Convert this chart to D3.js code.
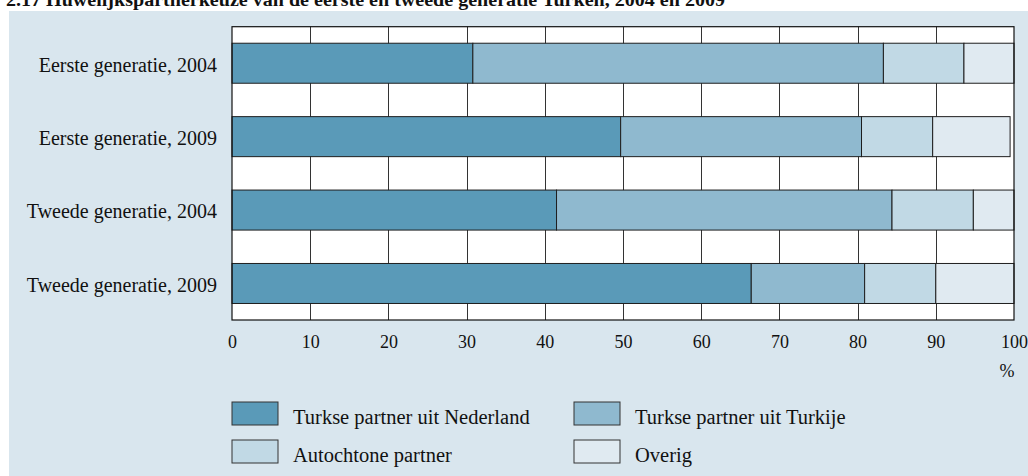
<!DOCTYPE html>
<html>
<head>
<meta charset="utf-8">
<script src="https://cdn.jsdelivr.net/npm/d3@7"></script>
<style>
  html, body { margin: 0; padding: 0; background: #ffffff; }
  svg { display: block; }
  text { font-family: "Liberation Serif", "DejaVu Serif", serif; fill: #111; }
</style>
</head>
<body>
<svg id="chart" width="1028" height="476"></svg>
<script>
const title = "2.17  Huwelijkspartnerkeuze van de eerste en tweede generatie Turken, 2004 en 2009";
const categories = ["Eerste generatie, 2004", "Eerste generatie, 2009", "Tweede generatie, 2004", "Tweede generatie, 2009"];
const seriesNames = ["Turkse partner uit Nederland", "Turkse partner uit Turkije", "Autochtone partner", "Overig"];
const turksNederland = [30.8, 49.7, 41.5, 66.4];
const turksTurkije   = [52.5, 30.8, 42.9, 14.5];
const autochtoon     = [10.3, 9.1, 10.4, 9.1];
const overig         = [6.4, 9.9, 5.2, 10.0];
const xTicks = [0, 10, 20, 30, 40, 50, 60, 70, 80, 90, 100];
const unitLabel = "%";

const colors = ["#5a9ab8", "#8fb9cf", "#c1d9e5", "#e0eaf1"];
const seriesValues = [turksNederland, turksTurkije, autochtoon, overig];

const rows = categories.map((c, i) => {
  const r = { cat: c };
  seriesNames.forEach((s, j) => r[s] = seriesValues[j][i]);
  return r;
});

const svg = d3.select("#chart");

// panel background
svg.append("rect").attr("x", 9).attr("y", 11).attr("width", 1019).attr("height", 465).attr("fill", "#d9e6ee");

// title
svg.append("text").attr("x", 6).attr("y", 6)
  .attr("font-weight", "bold").attr("font-size", 18)
  .attr("textLength", 719).attr("lengthAdjust", "spacingAndGlyphs")
  .text(title);

const x = d3.scaleLinear().domain([0, 100]).range([232, 1014]);
const y = d3.scaleBand().domain(categories).range([26.7, 320]).paddingInner(0.455).paddingOuter(0.225);

// plot area
svg.append("rect").attr("x", x(0)).attr("y", 26.7).attr("width", x(100) - x(0)).attr("height", 320 - 26.7)
  .attr("fill", "#ffffff");

// gridlines
svg.append("g").selectAll("line").data(xTicks.slice(1, -1)).join("line")
  .attr("x1", d => Math.round(x(d)) + 0.5).attr("x2", d => Math.round(x(d)) + 0.5)
  .attr("y1", 26.7).attr("y2", 320)
  .attr("stroke", "#333").attr("stroke-width", 1);

// stacked bars
const stack = d3.stack().keys(seriesNames)(rows);
svg.append("g").selectAll("g").data(stack).join("g")
  .attr("fill", (d, i) => colors[i])
  .selectAll("rect").data(d => d).join("rect")
  .attr("x", d => x(d[0])).attr("width", d => x(d[1]) - x(d[0]))
  .attr("y", d => y(d.data.cat)).attr("height", y.bandwidth())
  .attr("stroke", "#1e1e1e").attr("stroke-width", 1);

// border
svg.append("rect").attr("x", x(0)).attr("y", 26.7).attr("width", x(100) - x(0)).attr("height", 320 - 26.7)
  .attr("fill", "none").attr("stroke", "#111").attr("stroke-width", 1.2);

// x axis
const xAxis = svg.append("g").attr("transform", "translate(0,320)")
  .call(d3.axisBottom(x).tickValues(xTicks).tickSize(0).tickPadding(15).tickFormat(d3.format("d")));
xAxis.select(".domain").remove();
xAxis.selectAll("text").attr("font-size", 18).attr("font-family", "'Liberation Serif', serif").attr("fill", "#111");

svg.append("text").attr("x", 1007).attr("y", 377).attr("text-anchor", "middle").attr("font-size", 18).text(unitLabel);

// y axis
const yAxis = svg.append("g").attr("transform", `translate(${x(0)},0)`)
  .call(d3.axisLeft(y).tickSize(0).tickPadding(15));
yAxis.select(".domain").remove();
yAxis.selectAll("text").attr("font-size", 20).attr("font-family", "'Liberation Serif', serif").attr("fill", "#111").attr("dy", "0.42em");

// legend
const legPos = [[232, 402], [574, 402], [232, 440], [574, 440]];
const leg = svg.append("g").selectAll("g").data(seriesNames).join("g")
  .attr("transform", (d, i) => `translate(${legPos[i][0]},${legPos[i][1]})`);
leg.append("rect").attr("width", 46).attr("height", 23).attr("fill", (d, i) => colors[i])
  .attr("stroke", "#333").attr("stroke-width", 1);
leg.append("text").attr("x", 61).attr("y", 22).attr("font-size", 20.5).text(d => d);
</script>
</body>
</html>
